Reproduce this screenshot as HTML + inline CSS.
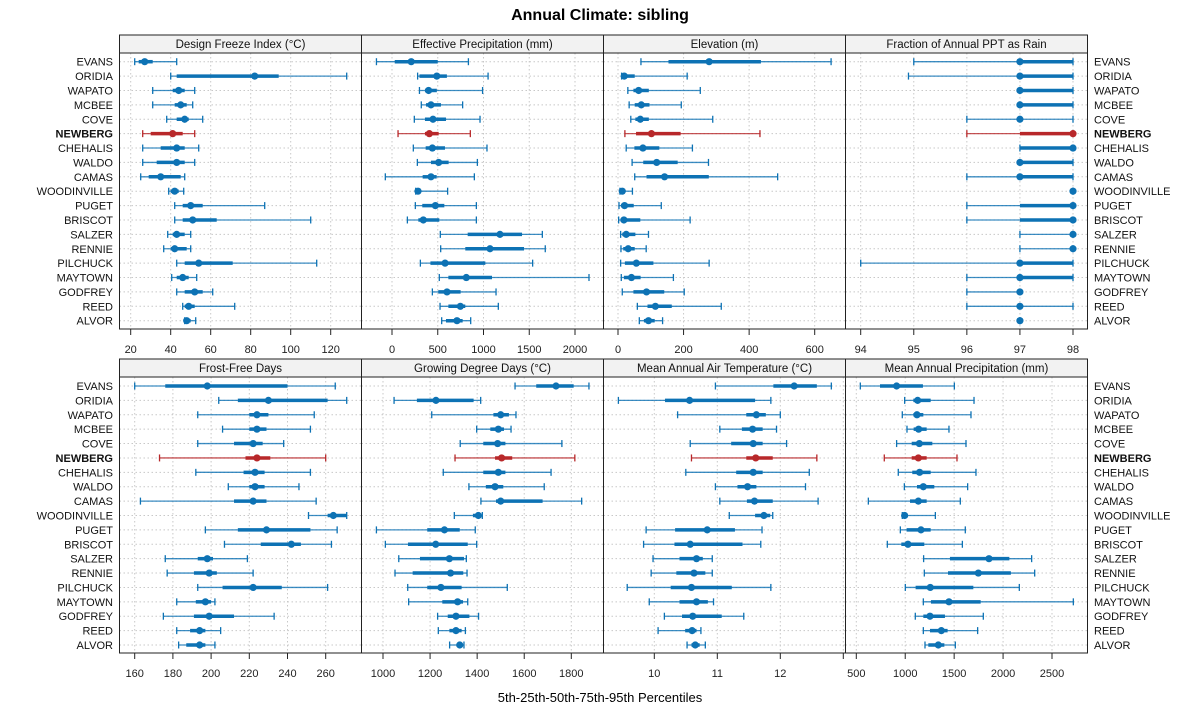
<!DOCTYPE html>
<html><head><meta charset="utf-8"><style>
body{margin:0;background:#fff;}
svg{display:block;font-family:"Liberation Sans",Arial,sans-serif;}
</style></head><body>
<svg id="chart" width="1200" height="725" viewBox="0 0 1200 725">
<text x="600" y="20" text-anchor="middle" font-size="16" font-weight="bold">Annual Climate: sibling</text>
<text x="600" y="702" text-anchor="middle" font-size="13">5th-25th-50th-75th-95th Percentiles</text>
</svg>
<script>
const sites = ["EVANS","ORIDIA","WAPATO","MCBEE","COVE","NEWBERG","CHEHALIS","WALDO","CAMAS","WOODINVILLE","PUGET","BRISCOT","SALZER","RENNIE","PILCHUCK","MAYTOWN","GODFREY","REED","ALVOR"];
const highlightSite = "NEWBERG";
const panelTitles = ["Design Freeze Index (°C)","Effective Precipitation (mm)","Elevation (m)","Fraction of Annual PPT as Rain","Frost-Free Days","Growing Degree Days (°C)","Mean Annual Air Temperature (°C)","Mean Annual Precipitation (mm)"];
// each row: p5, p25, p50, p75, p95
const freezeIndex = [[22,24,27,31,43],[40,43,82,94,128],[31,41,44,47,52],[31,42,45,48,51],[38,43,47,49,56],[26,30,41,46,52],[26,35,43,47,54],[26,33,43,47,52],[25,29,35,45,47],[39,40,42,44,46.5],[42,46,50,56,87],[42,46,51,63,110],[38.5,41,43,47,50],[36.5,40,42,48,50],[43,47,54,71,113],[40.5,43,46,49,53],[43,47,52,56,61],[46,47,49,52,72],[47,47.5,48,50,52.5]];
const effPrecip = [[-170,30,210,500,835],[280,300,490,600,1050],[300,360,400,490,990],[320,372,426,535,772],[244,360,448,590,962],[66,360,408,510,856],[233,368,441,579,1038],[277,426,510,619,933],[-73,335,426,488,900],[259,262,284,306,608],[255,331,474,572,922],[168,288,342,517,922],[528,827,1180,1421,1643],[532,801,1071,1443,1675],[310,420,580,1020,1537],[517,616,812,1093,2153],[441,506,601,750,1137],[525,616,747,801,1162],[543,590,710,772,860]];
const elevation = [[70,154,278,436,650],[11,12,19,51,211],[30,47,63,94,251],[34,51,71,96,193],[39,53,68,94,289],[21,55,102,191,433],[25,50,76,126,227],[43,77,118,182,276],[51,87,142,277,487],[6,8,13,21,44],[3,9,20,48,132],[2,8,18,68,220],[8,13,25,53,93],[9,16,31,51,86],[8,21,56,108,278],[10,18,41,69,169],[13,47,87,141,202],[59,90,114,164,315],[65,79,93,112,136]];
const fracRain = [[95,97,97,98,98],[94.9,97,97,98,98],[97,97,97,98,98],[97,97,97,98,98],[96,97,97,97,98],[96,97,98,98,98],[97,97,98,98,98],[97,97,97,98,98],[96,97,97,98,98],[98,98,98,98,98],[96,97,98,98,98],[96,97,98,98,98],[97,98,98,98,98],[97,98,98,98,98],[94,97,97,98,98],[96,97,97,98,98],[96,97,97,97,97],[96,97,97,97,98],[97,97,97,97,97]];
const frostFree = [[160,176,198,240,265],[204,214,230,261,271],[193,220,224,230,254],[206,220,224,229,252],[193,212,222,227,238],[173,218,224,231,260],[192,217,223,228,252],[209,220,223,228,246],[163,212,222,229,255],[251,261,264,271,271],[197,214,229,252,266],[207,226,242,247,263],[176,193,198,201,219],[177,191,199,203,222],[193,206,222,237,261],[182,192,197,200,202],[175,191,199,212,233],[182,189,194,197,205],[183,187,194,197,202]];
const gdd = [[1561,1651,1735,1810,1875],[1047,1144,1225,1385,1415],[1207,1469,1500,1535,1565],[1398,1456,1490,1514,1544],[1328,1426,1487,1520,1760],[1306,1476,1504,1549,1815],[1256,1426,1490,1520,1714],[1365,1437,1476,1511,1685],[1416,1480,1500,1678,1844],[1303,1382,1405,1419,1422],[972,1188,1261,1326,1392],[1010,1106,1224,1360,1398],[1067,1157,1282,1344,1354],[1051,1126,1287,1341,1357],[1105,1188,1246,1334,1528],[1109,1252,1317,1340,1360],[1232,1275,1310,1367,1406],[1235,1282,1310,1334,1350],[1283,1314,1326,1336,1344]];
const maat = [[10.97,11.89,12.22,12.58,12.81],[9.43,10.17,10.56,11.6,11.85],[10.37,11.46,11.62,11.77,12.0],[11.04,11.39,11.56,11.72,11.94],[10.57,11.22,11.57,11.72,12.1],[10.59,11.46,11.61,11.88,12.58],[10.5,11.3,11.57,11.72,12.46],[10.97,11.32,11.48,11.62,12.4],[11.04,11.47,11.59,11.88,12.6],[11.19,11.6,11.74,11.84,11.88],[9.87,10.33,10.84,11.28,11.71],[9.83,10.32,10.57,11.4,11.69],[9.98,10.4,10.67,10.77,10.92],[9.95,10.35,10.63,10.81,10.92],[9.57,10.26,10.59,11.23,11.85],[9.92,10.4,10.67,10.85,10.94],[10.16,10.44,10.61,11.07,11.42],[10.06,10.49,10.6,10.67,10.74],[10.52,10.59,10.65,10.72,10.81]];
const map = [[541,742,912,1181,1502],[994,1083,1127,1260,1703],[970,1083,1120,1185,1672],[1018,1086,1137,1219,1447],[912,1066,1144,1277,1621],[786,1066,1134,1219,1529],[929,1072,1147,1260,1723],[991,1120,1185,1297,1638],[623,1049,1134,1219,1563],[970,974,994,1025,1308],[950,1014,1161,1260,1614],[817,960,1028,1195,1584],[1188,1457,1856,2064,2292],[1195,1437,1747,2080,2323],[1001,1106,1256,1696,2166],[1185,1263,1447,1771,2718],[1103,1185,1253,1406,1798],[1185,1253,1369,1433,1740],[1202,1236,1338,1400,1512]];
const ticks1 = [20,40,60,80,100,120];
const ticks2 = [0,500,1000,1500,2000];
const ticks3 = [0,200,400,600];
const ticks4 = [94,95,96,97,98];
const ticks5 = [160,180,200,220,240,260];
const ticks6 = [1000,1200,1400,1600,1800];
const ticks7 = [10,11,12,13];
const tickLabels7 = ["10","11","12",""];
const ticks8 = [500,1000,1500,2000,2500];

const NS="http://www.w3.org/2000/svg";
const svg=document.getElementById('chart');
function mk(tag,attrs,parent){const e=document.createElementNS(NS,tag);for(const k in attrs)e.setAttribute(k,attrs[k]);(parent||svg).appendChild(e);return e;}
function scaleFn(v0,p0,v1,p1){return v=>p0+(v-v0)*(p1-p0)/(v1-v0);}
const colX=[119.5,361.5,603.5,845.5,1087.5];
const rows=[{hTop:35,pTop:53,pBot:329,y0:61.7,y1:320.7},{hTop:359,pTop:377,pBot:653,y0:386,y1:645}];
const panels=[
 {d:freezeIndex,t:ticks1,s:scaleFn(20,130.7,120,330.7)},
 {d:effPrecip,t:ticks2,s:scaleFn(0,392,2000,575)},
 {d:elevation,t:ticks3,s:scaleFn(0,618,600,814.7)},
 {d:fracRain,t:ticks4,s:scaleFn(94,860.7,98,1073)},
 {d:frostFree,t:ticks5,s:scaleFn(160,134.7,260,325.7)},
 {d:gdd,t:ticks6,s:scaleFn(1000,383,1800,571.3)},
 {d:maat,t:ticks7,s:scaleFn(10,654.3,12,780.3),lbl:tickLabels7},
 {d:map,t:ticks8,s:scaleFn(500,856.3,2500,1052)}
];
function rowY(r,i){return r.y0+i*(r.y1-r.y0)/(sites.length-1);}
panels.forEach((p,pi)=>{
 const r=rows[Math.floor(pi/4)], c=pi%4, xl=colX[c], xr=colX[c+1];
 const g=mk('g',{});
 
 
 const h=mk('rect',{x:xl,y:r.hTop,width:xr-xl,height:r.pTop-r.hTop,fill:'#f2f2f2',stroke:'#222','stroke-width':1},g);
 
 
 const ht=mk('text',{x:(xl+xr)/2,y:r.hTop+13,'text-anchor':'middle','font-size':11.5,fill:'#111'},g);
 ht.textContent=panelTitles[pi];
 
 
 sites.forEach((s,i)=>{const y=rowY(r,i);mk('line',{x1:xl,x2:xr,y1:y,y2:y,stroke:'#c8c8c8','stroke-dasharray':'1.5,2.5','stroke-width':1},g);});
 p.t.forEach((tv,ti)=>{const x=p.s(tv);
  if(x>xl+1&&x<xr-1) mk('line',{x1:x,x2:x,y1:r.pTop,y2:r.pBot,stroke:'#c8c8c8','stroke-dasharray':'1.5,2.5','stroke-width':1},g);
  const tk=mk('line',{x1:x,x2:x,y1:r.pBot,y2:r.pBot+6,stroke:'#222','stroke-width':1},g);
  
  
  const lab=p.lbl?p.lbl[ti]:String(tv);
  if(lab){const tl=mk('text',{x:x,y:r.pBot+24,'text-anchor':'middle','font-size':11,fill:'#222'},g);tl.textContent=lab;
   
   }
 });
 mk('rect',{x:xl,y:r.pTop,width:xr-xl,height:r.pBot-r.pTop,fill:'none',stroke:'#222','stroke-width':1},g);
 p.d.forEach((v,i)=>{
  const y=rowY(r,i), hl=sites[i]===highlightSite, col=hl?'#b8282a':'#0d72b4';
  const m=mk('g',{},g);
  
  
  const a=p.s(v[0]),b=p.s(v[1]),md=p.s(v[2]),d=p.s(v[3]),e=p.s(v[4]);
  mk('line',{x1:a,x2:e,y1:y,y2:y,stroke:col,'stroke-width':1.3,'stroke-opacity':0.8},m);
  mk('line',{x1:a,x2:a,y1:y-3.5,y2:y+3.5,stroke:col,'stroke-width':1.3},m);
  mk('line',{x1:e,x2:e,y1:y-3.5,y2:y+3.5,stroke:col,'stroke-width':1.3},m);
  mk('line',{x1:b,x2:d,y1:y,y2:y,stroke:col,'stroke-width':3.5},m);
  mk('circle',{cx:md,cy:y,r:3.6,fill:col},m);
 });
});
sites.forEach((s,i)=>{rows.forEach((r,ri)=>{
 const y=rowY(r,i)+4, hl=s===highlightSite;
 const l=mk('text',{x:113,y:y,'text-anchor':'end','font-size':11,'font-weight':hl?'bold':'normal',fill:'#111'});
 l.textContent=s;
 
 
 const rt=mk('text',{x:1094,y:y,'text-anchor':'start','font-size':11,'font-weight':hl?'bold':'normal',fill:'#111'});
 rt.textContent=s;
 
 
});});
</script>
</body></html>
